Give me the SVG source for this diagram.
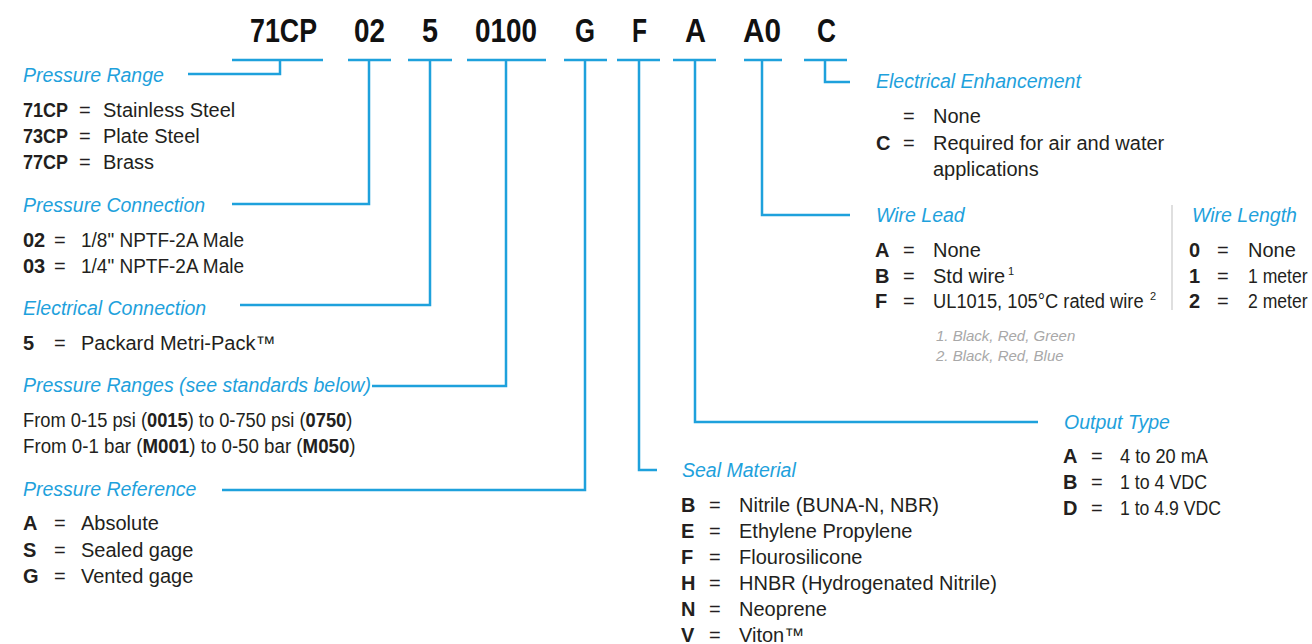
<svg xmlns="http://www.w3.org/2000/svg" width="1312" height="644" viewBox="0 0 1312 644">
<style>
text{font-family:"Liberation Sans",Arial,sans-serif;fill:#231f20;font-size:20px}
.hd{font-size:34px;font-weight:bold;fill:#111}
.t{fill:#1ea1dc;font-style:italic;font-size:19.5px}
.b{font-weight:bold}
.fn{fill:#a8a8a8;font-style:italic;font-size:15px}
.sup{font-size:11px}
.c{stroke:#1ea1dc;stroke-width:2.5;fill:none}
</style>
<rect width="1312" height="644" fill="#fff"/>
<g id="code">
<text class="hd" x="250" y="42" textLength="67" lengthAdjust="spacingAndGlyphs">71CP</text>
<text class="hd" x="354" y="42" textLength="31" lengthAdjust="spacingAndGlyphs">02</text>
<text class="hd" x="422" y="42" textLength="16" lengthAdjust="spacingAndGlyphs">5</text>
<text class="hd" x="475" y="42" textLength="62" lengthAdjust="spacingAndGlyphs">0100</text>
<text class="hd" x="575" y="42" textLength="20" lengthAdjust="spacingAndGlyphs">G</text>
<text class="hd" x="632" y="42" textLength="15" lengthAdjust="spacingAndGlyphs">F</text>
<text class="hd" x="685" y="42" textLength="21" lengthAdjust="spacingAndGlyphs">A</text>
<text class="hd" x="743" y="42" textLength="38" lengthAdjust="spacingAndGlyphs">A0</text>
<text class="hd" x="817" y="42" textLength="19" lengthAdjust="spacingAndGlyphs">C</text>
</g>
<g id="connectors" class="c">
<path d="M232 60H323M280 60V74H188"/>
<path d="M348 60H391M369 60V204H232"/>
<path d="M408 60H452M430 60V305H240"/>
<path d="M467 60H546M506 60V386H372"/>
<path d="M564 60H607M585 60V490H222"/>
<path d="M617 60H660M639 60V470H657"/>
<path d="M673 60H716M695 60V422H1038"/>
<path d="M744 60H782M762 60V215H850"/>
<path d="M804 60H847M825 60V82H850"/>
</g>
<g id="pressure-range">
<text class="t" x="23" y="82">Pressure Range</text>
<text class="b" x="23" y="117" textLength="45" lengthAdjust="spacingAndGlyphs">71CP</text><text x="79" y="117">=</text><text x="103" y="117">Stainless Steel</text>
<text class="b" x="23" y="143" textLength="45" lengthAdjust="spacingAndGlyphs">73CP</text><text x="79" y="143">=</text><text x="103" y="143">Plate Steel</text>
<text class="b" x="23" y="169" textLength="45" lengthAdjust="spacingAndGlyphs">77CP</text><text x="79" y="169">=</text><text x="103" y="169">Brass</text>
</g>
<g id="pressure-connection">
<text class="t" x="23" y="212">Pressure Connection</text>
<text class="b" x="23" y="247">02</text><text x="54" y="247">=</text><text x="81" y="247" textLength="163" lengthAdjust="spacingAndGlyphs">1/8" NPTF-2A Male</text>
<text class="b" x="23" y="273">03</text><text x="54" y="273">=</text><text x="81" y="273" textLength="163" lengthAdjust="spacingAndGlyphs">1/4" NPTF-2A Male</text>
</g>
<g id="electrical-connection">
<text class="t" x="23" y="315">Electrical Connection</text>
<text class="b" x="23" y="350">5</text><text x="54" y="350">=</text><text x="81" y="350">Packard Metri-Pack™</text>
</g>
<g id="pressure-ranges">
<text class="t" x="23" y="392">Pressure Ranges (see standards below)</text>
<text transform="translate(23 427) scale(0.915 1)" x="0" y="0">From 0-15 psi (<tspan class="b">0015</tspan>) to 0-750 psi (<tspan class="b">0750</tspan>)</text>
<text transform="translate(23 453) scale(0.935 1)" x="0" y="0">From 0-1 bar (<tspan class="b">M001</tspan>) to 0-50 bar (<tspan class="b">M050</tspan>)</text>
</g>
<g id="pressure-reference">
<text class="t" x="23" y="496">Pressure Reference</text>
<text class="b" x="23" y="530">A</text><text x="54" y="530">=</text><text x="81" y="530">Absolute</text>
<text class="b" x="23" y="557">S</text><text x="54" y="557">=</text><text x="81" y="557">Sealed gage</text>
<text class="b" x="23" y="583">G</text><text x="54" y="583">=</text><text x="81" y="583">Vented gage</text>
</g>
<g id="seal-material">
<text class="t" x="682" y="477">Seal Material</text>
<text class="b" x="681" y="512">B</text><text x="709" y="512">=</text><text x="739" y="512">Nitrile (BUNA-N, NBR)</text>
<text class="b" x="681" y="538">E</text><text x="709" y="538">=</text><text x="739" y="538">Ethylene Propylene</text>
<text class="b" x="681" y="564">F</text><text x="709" y="564">=</text><text x="739" y="564">Flourosilicone</text>
<text class="b" x="681" y="590">H</text><text x="709" y="590">=</text><text x="739" y="590">HNBR (Hydrogenated Nitrile)</text>
<text class="b" x="681" y="616">N</text><text x="709" y="616">=</text><text x="739" y="616">Neoprene</text>
<text class="b" x="681" y="642">V</text><text x="709" y="642">=</text><text x="739" y="642">Viton™</text>
</g>
<g id="output-type">
<text class="t" x="1064" y="429">Output Type</text>
<text class="b" x="1063" y="463">A</text><text x="1091" y="463">=</text><text x="1120" y="463" textLength="88" lengthAdjust="spacingAndGlyphs">4 to 20 mA</text>
<text class="b" x="1063" y="489">B</text><text x="1091" y="489">=</text><text x="1120" y="489" textLength="87" lengthAdjust="spacingAndGlyphs">1 to 4 VDC</text>
<text class="b" x="1063" y="515">D</text><text x="1091" y="515">=</text><text x="1120" y="515" textLength="101" lengthAdjust="spacingAndGlyphs">1 to 4.9 VDC</text>
</g>
<g id="electrical-enhancement">
<text class="t" x="876" y="88">Electrical Enhancement</text>
<text x="903" y="123">=</text><text x="933" y="123">None</text>
<text class="b" x="876" y="150">C</text><text x="903" y="150">=</text><text x="933" y="150">Required for air and water</text>
<text x="933" y="176">applications</text>
</g>
<g id="wire-lead">
<text class="t" x="876" y="222">Wire Lead</text>
<text class="b" x="875" y="257">A</text><text x="903" y="257">=</text><text x="933" y="257">None</text>
<text class="b" x="875" y="283">B</text><text x="903" y="283">=</text><text x="933" y="283">Std wire</text><text class="sup" x="1008" y="275">1</text>
<text class="b" x="875" y="308">F</text><text x="903" y="308">=</text><text transform="translate(933 308) scale(0.915 1)" x="0" y="0">UL1015, 105°C rated wire</text><text class="sup" x="1150" y="300">2</text>
<text class="fn" x="936" y="341">1.  Black, Red, Green</text>
<text class="fn" x="936" y="361">2.  Black, Red, Blue</text>
</g>
<line x1="1172" y1="205" x2="1172" y2="310" stroke="#d4d4d4" stroke-width="1.5"/>
<g id="wire-length">
<text class="t" x="1192" y="222">Wire Length</text>
<text class="b" x="1189" y="257">0</text><text x="1217" y="257">=</text><text x="1248" y="257">None</text>
<text class="b" x="1189" y="283">1</text><text x="1217" y="283">=</text><text transform="translate(1248 283) scale(0.88 1)" x="0" y="0">1 meter</text>
<text class="b" x="1189" y="308">2</text><text x="1217" y="308">=</text><text transform="translate(1248 308) scale(0.88 1)" x="0" y="0">2 meter</text>
</g>
</svg>
